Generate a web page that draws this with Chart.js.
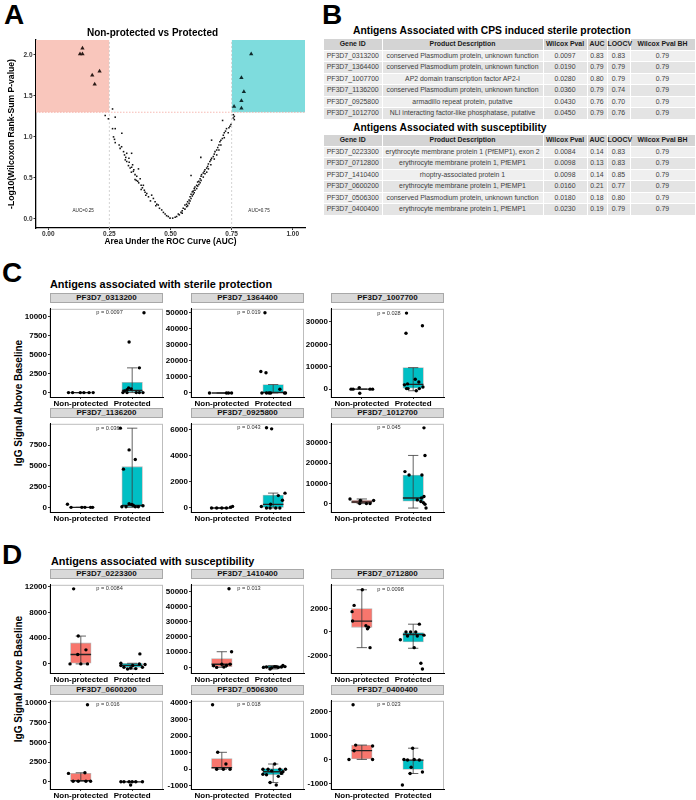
<!DOCTYPE html>
<html>
<head>
<meta charset="utf-8">
<script src="https://cdn.jsdelivr.net/npm/chart.js@4.4.1/dist/chart.umd.min.js"></script>
<style>
body { margin:0; background:#fff; font-family:"Liberation Sans", Arial, sans-serif; }
#page { position:relative; width:696px; height:800px; overflow:hidden; background:#fff; }
.abs { position:absolute; }
.letter { position:absolute; font-size:28px; line-height:28px; font-weight:bold; color:#000; }
.ptitle { position:absolute; font-weight:bold; color:#000; white-space:nowrap; line-height:12px; }
.strip { position:absolute; height:10px; box-sizing:border-box; background:#d9d9d9; border:1px solid #a8a8a8;
         font-size:8px; line-height:8px; font-weight:bold; color:#111; text-align:center; }
.ylab { position:absolute; width:200px; height:12px; line-height:12px; text-align:center; font-size:10px;
        font-weight:bold; color:#000; transform:rotate(-90deg); white-space:nowrap; }
table.tb { position:absolute; left:324px; width:371px; border-collapse:collapse; table-layout:fixed; font-size:6.9px; }
table.tb tr { height:11.5px; }
table.tb tr.hd { height:11px; }
table.tb th { background:#d4d4d4; color:#1a1a1a; font-weight:bold; line-height:8px; padding:0;
              border:0; border-right:1px solid #fff; border-bottom:1px solid #fff; }
table.tb td { color:#404040; line-height:8px; padding:0; text-align:center; white-space:nowrap;
              border:0; border-right:1px solid #fff; border-bottom:1px solid #fff; }
table.tb tr:nth-child(even) td { background:#efefef; }
table.tb tr:nth-child(odd) td { background:#e4e4e4; }
</style>
</head>
<body>
<div id="page">
  <div class="letter" style="left:4px;top:1px;">A</div>
  <div class="letter" style="left:322px;top:1px;">B</div>
  <div class="letter" style="left:2px;top:259px;">C</div>
  <div class="letter" style="left:2px;top:541px;">D</div>
  <canvas id="volcano" class="abs" width="312" height="222" style="left:0px;top:26px;"></canvas>
  <div class="ptitle" style="left:353px;top:25px;font-size:10.3px;">Antigens Associated with CPS induced sterile protection</div>
  <div class="ptitle" style="left:353px;top:122px;font-size:10.3px;">Antigens Associated with susceptibility</div>
  <div class="ptitle" style="left:50px;top:278px;font-size:10.9px;">Antigens associated with sterile protection</div>
  <div class="ptitle" style="left:51px;top:555px;font-size:10.9px;">Antigens associated with susceptibility</div>
  <div class="ylab" style="left:-81px;top:397px;">IgG Signal Above Baseline</div>
  <div class="ylab" style="left:-81px;top:673px;">IgG Signal Above Baseline</div>
</div>

<script>
// ---------------- data: panel A (volcano of AUC vs -log10 p) ----------------
const aucTicks = [0, 0.25, 0.5, 0.75, 1];
const logpTicks = [0, 0.5, 1, 1.5, 2];
const protAuc  = [0.83, 0.79, 0.80, 0.79, 0.76, 0.79];
const protLogP = [2.01, 1.72, 1.55, 1.44, 1.37, 1.35];
const suscAuc  = [0.14, 0.13, 0.14, 0.21, 0.18, 0.19];
const suscLogP = [2.08, 2.01, 2.01, 1.80, 1.75, 1.64];
// every other antigen, [AUC, -log10 p]
const otherPts = [
  [0.233,1.26],[0.246,1.22],[0.263,1.34],[0.274,1.24],[0.263,1.10],[0.274,1.10],[0.267,1.00],[0.271,0.97],
  [0.274,0.93],[0.301,1.045],[0.294,0.86],[0.29,0.90],[0.30,0.88],[0.308,0.82],[0.321,0.80],[0.312,0.78],
  [0.317,0.75],[0.341,0.80],[0.33,0.74],[0.315,0.72],[0.321,0.70],[0.331,0.69],[0.345,0.66],[0.328,0.65],
  [0.335,0.62],[0.341,0.63],[0.369,0.61],[0.35,0.60],[0.348,0.58],[0.34,0.57],[0.355,0.54],[0.362,0.52],
  [0.376,0.49],[0.355,0.48],[0.36,0.47],[0.366,0.46],[0.37,0.44],[0.380,0.41],[0.389,0.41],[0.385,0.38],
  [0.38,0.36],[0.393,0.35],[0.396,0.325],[0.403,0.31],[0.399,0.29],[0.423,0.29],[0.41,0.27],[0.430,0.25],
  [0.418,0.22],[0.437,0.21],[0.444,0.18],[0.450,0.17],[0.44,0.16],[0.455,0.13],[0.464,0.11],[0.471,0.08],
  [0.478,0.06],[0.484,0.04],[0.491,0.03],[0.498,0.01],[0.509,0.01],[0.519,0.02],
  [0.525,0.03],[0.532,0.06],[0.536,0.05],[0.543,0.08],[0.548,0.10],[0.548,0.07],[0.552,0.13],[0.559,0.17],
  [0.559,0.12],[0.566,0.18],[0.566,0.15],[0.570,0.21],[0.570,0.16],[0.576,0.23],[0.576,0.19],[0.580,0.27],
  [0.580,0.22],[0.584,0.30],[0.584,0.25],[0.584,0.53],[0.589,0.33],[0.589,0.28],[0.593,0.34],[0.593,0.30],
  [0.597,0.37],[0.597,0.32],[0.600,0.39],[0.600,0.35],[0.607,0.41],[0.607,0.37],[0.611,0.45],[0.611,0.40],
  [0.616,0.46],[0.616,0.42],[0.621,0.49],[0.621,0.44],[0.625,0.52],[0.625,0.47],[0.624,0.75],[0.627,0.54],
  [0.634,0.56],[0.634,0.51],[0.638,0.58],[0.641,0.60],[0.641,0.55],[0.648,0.62],[0.648,0.57],[0.652,0.64],
  [0.655,0.67],[0.655,0.61],[0.661,0.70],[0.665,0.72],[0.665,0.66],[0.668,0.74],[0.668,0.96],[0.675,0.76],
  [0.679,0.79],[0.679,0.73],[0.682,0.82],[0.689,0.84],[0.689,0.78],[0.693,0.87],[0.698,0.90],[0.698,0.84],
  [0.702,0.94],[0.706,0.96],[0.706,0.90],[0.712,0.98],[0.713,1.20],[0.716,1.02],[0.720,1.05],[0.720,0.99],
  [0.725,1.07],[0.729,1.10],[0.736,1.05],[0.739,1.11],[0.743,1.13],[0.747,1.15],[0.757,1.23],[0.757,1.27],
  [0.761,1.25],[0.761,1.21]
];
const aucCut = [0.25, 0.75];
const pCut = 1.3;

// ---------------- data: panel B tables ----------------
const tableHead = ["Gene ID", "Product Description", "Wilcox Pval", "AUC", "LOOCV", "Wilcox Pval BH"];
const colWidths = [58, 161, 44, 20, 23, 65];
const protGene = ["PF3D7_0313200","PF3D7_1364400","PF3D7_1007700","PF3D7_1136200","PF3D7_0925800","PF3D7_1012700"];
const protDesc = ["conserved Plasmodium protein, unknown function","conserved Plasmodium protein, unknown function",
  "AP2 domain transcription factor AP2-I","conserved Plasmodium protein, unknown function",
  "armadillo repeat protein, putative","NLI interacting factor-like phosphatase, putative"];
const protPval = ["0.0097","0.0190","0.0280","0.0360","0.0430","0.0450"];
const protAucT = ["0.83","0.79","0.80","0.79","0.76","0.79"];
const protLoocv = ["0.83","0.79","0.79","0.74","0.70","0.76"];
const protBH = ["0.79","0.79","0.79","0.79","0.79","0.79"];
const suscGene = ["PF3D7_0223300","PF3D7_0712800","PF3D7_1410400","PF3D7_0600200","PF3D7_0506300","PF3D7_0400400"];
const suscDesc = ["erythrocyte membrane protein 1 (PfEMP1), exon 2","erythrocyte membrane protein 1, PfEMP1",
  "rhoptry-associated protein 1","erythrocyte membrane protein 1, PfEMP1",
  "conserved Plasmodium protein, unknown function","erythrocyte membrane protein 1, PfEMP1"];
const suscPval = ["0.0084","0.0098","0.0098","0.0160","0.0180","0.0230"];
const suscAucT = ["0.14","0.13","0.14","0.21","0.18","0.19"];
const suscLoocv = ["0.83","0.83","0.85","0.77","0.80","0.79"];
const suscBH = ["0.79","0.79","0.79","0.79","0.79","0.79"];

// ---------------- data: panels C and D (box plots) ----------------
const groupLabels = ["Non-protected", "Protected"];
const facetGenes = ["PF3D7_0313200","PF3D7_1364400","PF3D7_1007700","PF3D7_1136200","PF3D7_0925800","PF3D7_1012700",
                    "PF3D7_0223300","PF3D7_1410400","PF3D7_0712800","PF3D7_0600200","PF3D7_0506300","PF3D7_0400400"];
const facetP = ["p = 0.0097","p = 0.019","p = 0.028","p = 0.036","p = 0.043","p = 0.045",
                "p = 0.0084","p = 0.013","p = 0.0098","p = 0.016","p = 0.018","p = 0.023"];
const facetRange = [[-578,10984],[-2500,52500],[-3500,35870],[-560,10090],[-307,6447],[-4150,39500],
                    [-1414,12290],[-3700,54320],[-3496,4024],[-913,10270],[-1190,4128],[-1236,2452]];
const facetTicks = [[0,2500,5000,7500,10000],[0,10000,20000,30000,40000,50000],[0,10000,20000,30000],
                    [0,2500,5000,7500],[0,2000,4000,6000],[0,10000,20000,30000],
                    [0,4000,8000,12000],[0,10000,20000,30000,40000,50000],[-2000,0,2000],
                    [0,2500,5000,7500,10000],[-1000,0,1000,2000,3000,4000],[-1000,0,1000,2000]];
// [q1, median, q3, lower whisker, upper whisker]
const boxNonProt = [[0,0,0,0,0],[0,0,0,0,0],[0,0,0,0,0],[0,0,0,0,0],[0,0,0,0,0],[200,800,1700,0,2300],
                    [97,1457,3255,0,4324],[412,2058,5762,0,10290],[400,933,2000,-1333,3600],
                    [79,150,1067,79,1146],[0,100,651,0,1023],[0,366,601,0,601]];
const boxProt = [[0,290,1353,0,3240],[0,300,5254,0,5254],[400,2100,9600,-710,9600],[0,250,4912,0,9562],
                 [0,280,990,0,1140],[1230,2768,14150,-2200,23840],
                 [-534,-243,97,-790,97],[-412,200,1235,-1060,1235],[-853,-213,0,-1387,667],
                 [0,0,0,0,0],[-335,-149,37,-800,316],[-418,-26,0,-588,470]];
// jittered points: [offset from group centre, value]
const ptsNonProt = [
  [[-0.24,0],[-0.16,0],[-0.01,0],[0.06,0],[0.16,0],[0.24,0]],
  [[-0.24,0],[0.09,0],[0.13,0],[0.19,0]],
  [[-0.21,0],[-0.17,0],[-0.05,700],[-0.04,-1800],[0.16,0],[0.21,0]],
  [[-0.26,375],[-0.19,0],[0.02,0],[0.08,0],[0.19,0],[0.23,0]],
  [[-0.2,0],[-0.1,0],[0,0],[0.09,0],[0.17,70],[0.21,120]],
  [[-0.23,2307],[-0.03,1538],[-0.04,0],[0.09,0],[0.16,0],[0.23,1538]],
  [[-0.14,11660],[-0.05,4324],[-0.06,1457],[0.1,2186],[-0.21,0],[0,0],[0.13,0]],
  [[0.14,51680],[0.19,10290],[-0.16,1029],[0.04,206],[0,2058],[0.09,1235],[0.16,2058],[-0.1,0]],
  [[0.01,3600],[-0.15,2267],[-0.19,1733],[-0.18,933],[0.08,533],[0.11,267],[0.16,-1333],[0.13,400]],
  [[0.13,9762],[-0.24,1067],[0.08,1146],[-0.15,79],[-0.05,79],[0.1,79],[0.19,79]],
  [[-0.18,3886],[-0.08,1023],[0.08,316],[-0.1,0],[0.03,0],[0.16,0]],
  [[-0.17,2284],[-0.12,600],[-0.15,366],[0.21,565],[-0.25,0],[0.21,0]]
];
const ptsProt = [
  [[0.23,10458],[-0.06,6640],[0.14,3240],[-0.02,490],[-0.07,615],[-0.10,370],[-0.15,205],[-0.18,0],[-0.1,0],[0.08,0],[0.14,0],[0.21,0]],
  [[-0.16,50000],[-0.24,13430],[-0.14,12650],[0.13,2335],[-0.22,0],[-0.13,0],[-0.08,0],[-0.05,0],[0.22,0],[0.24,0]],
  [[-0.13,33940],[-0.14,24970],[0.18,28320],[0.04,4440],[0.11,3180],[-0.11,2350],[-0.17,1930],[0.19,960],[-0.13,250],[-0.10,250],[0.12,250],[0.06,-710]],
  [[-0.23,9562],[-0.06,6937],[0.06,5775],[-0.17,4612],[-0.06,450],[-0.01,337],[0.02,260],[-0.20,75],[-0.12,75],[0.06,75],[0.12,75],[0.21,190]],
  [[-0.13,6140],[-0.03,6060],[-0.05,284],[0.1,948],[0.23,1138],[0.18,592],[0.05,0],[0.13,0],[-0.13,0],[-0.06,0],[-0.23,118]],
  [[0.21,37500],[0.23,23840],[-0.16,15840],[-0.08,14150],[0.17,14150],[0.21,3537],[0.08,1846],[0.15,1077],[0.16,2768],[0.23,-308],[0.2,461],[0.25,-2200]],
  [[0.15,1555],[-0.22,97],[-0.16,-534],[-0.03,-631],[0.07,-728],[-0.09,-790],[0.2,-534],[0.14,0],[0.01,-243],[-0.22,-243],[0.25,-100]],
  [[-0.06,-1060],[0.19,1235],[0.03,400],[0.1,0],[-0.19,0],[-0.13,200],[0.16,200],[0.23,500],[-0.03,-300],[0.06,300]],
  [[0.12,667],[-0.14,0],[-0.05,0],[0.05,0],[-0.25,-667],[-0.11,-347],[0.08,-347],[0.21,-267],[0.02,-1333],[0.15,-2667],[0.18,-3154]],
  [[-0.22,0],[-0.16,0],[-0.06,0],[0,0],[0.07,0],[0.2,0],[-0.03,-404]],
  [[0.03,316],[-0.2,0],[-0.1,0],[0.13,0],[0.24,0],[-0.13,-335],[-0.2,-300],[0.16,-250],[0.1,-428],[-0.06,-800],[0.06,-949],[-0.03,-100],[0.19,-150]],
  [[-0.01,470],[-0.18,0],[-0.11,-26],[0.02,0],[0.12,-26],[-0.04,-327],[-0.06,-588],[0.18,-523],[-0.21,-1069]]
];

// ---------------- layout / style ----------------
const FONT = '"Liberation Sans", Arial, sans-serif';
const SALMON = "#F8766D", CYAN = "#00BFC4";
const colX = [50, 191, 331];
const stripTop = [293, 408, 569, 685];
const PLOT_W = 113, PLOT_H = 94, STRIP_H = 10, YAX_W = 34, XAX_H = 14;
const BOX_HALF = 0.2, CAP_HALF = 0.1;

Chart.defaults.font.family = FONT;
const page = document.getElementById("page");

// ---------------- panel B ----------------
function buildTable(top, cols)
{
    const t = document.createElement("table");
    t.className = "tb";
    t.style.top = top + "px";
    let html = "<colgroup>" + colWidths.map(w => '<col style="width:' + w + 'px">').join("") + "</colgroup>";
    html += '<tr class="hd">' + tableHead.map(h => "<th>" + h + "</th>").join("") + "</tr>";
    for (let r = 0; r < cols[0].length; r++)
        html += "<tr>" + cols.map(c => "<td>" + c[r] + "</td>").join("") + "</tr>";
    t.innerHTML = html;
    page.appendChild(t);
}
buildTable(39, [protGene, protDesc, protPval, protAucT, protLoocv, protBH]);
buildTable(135, [suscGene, suscDesc, suscPval, suscAucT, suscLoocv, suscBH]);

// ---------------- panel A ----------------
const xMinA = -0.05, xMaxA = 1.05, yMinA = -0.11, yMaxA = 2.18;

const aucNotes = {
    id: "aucNotes",
    afterDatasetsDraw(chart)
    {
        const {ctx, scales: {x, y}} = chart;
        ctx.save();
        ctx.font = "4.6px " + FONT;
        ctx.fillStyle = "#222";
        ctx.textAlign = "center";
        ctx.textBaseline = "middle";
        ctx.fillText("AUC=0.25", x.getPixelForValue(0.143), y.getPixelForValue(0.1));
        ctx.fillText("AUC=0.75", x.getPixelForValue(0.862), y.getPixelForValue(0.1));
        ctx.restore();
    }
};

new Chart(document.getElementById("volcano"), {
    type: "scatter",
    data: {
        datasets: [
            { type:"line", data:[{x:xMinA, y:yMaxA}, {x:aucCut[0], y:yMaxA}], fill:{value:pCut},
              backgroundColor:"#F9C6BC", borderWidth:0, pointRadius:0, order:10 },
            { type:"line", data:[{x:aucCut[1], y:yMaxA}, {x:xMaxA, y:yMaxA}], fill:{value:pCut},
              backgroundColor:"#7EDCDD", borderWidth:0, pointRadius:0, order:10 },
            { type:"line", data:[{x:aucCut[0], y:yMinA}, {x:aucCut[0], y:yMaxA}, {x:aucCut[0], y:null},
                                 {x:aucCut[1], y:yMinA}, {x:aucCut[1], y:yMaxA}],
              borderColor:"#c8c8c8", borderWidth:0.8, borderDash:[2,2], pointRadius:0, order:5 },
            { type:"line", data:[{x:xMinA, y:pCut}, {x:xMaxA, y:pCut}],
              borderColor:"#F4A7A0", borderWidth:0.8, borderDash:[1.5,1.5], pointRadius:0, order:5 },
            { data: otherPts.map(p => ({x:p[0], y:p[1]})), pointStyle:"rect", pointRadius:1.1,
              backgroundColor:"#111", borderWidth:0, order:1 },
            { data: suscAuc.map((a, k) => ({x:a, y:suscLogP[k]})), pointStyle:"triangle", pointRadius:2.5,
              backgroundColor:"#2a1a16", borderWidth:0, order:0 },
            { data: protAuc.map((a, k) => ({x:a, y:protLogP[k]})), pointStyle:"triangle", pointRadius:2.5,
              backgroundColor:"#0f2a2b", borderWidth:0, order:0 }
        ]
    },
    options: {
        responsive:false, animation:false, events:[],
        layout: { autoPadding:false, padding:{left:0, right:7, top:0, bottom:0} },
        plugins: {
            legend:{display:false}, tooltip:{enabled:false},
            title: { display:true, text:"Non-protected vs Protected", color:"#000",
                     font:{size:10, weight:"bold"}, padding:{top:1, bottom:1} }
        },
        scales: {
            x: { type:"linear", min:xMinA, max:xMaxA,
                 afterBuildTicks: ax => { ax.ticks = aucTicks.map(v => ({value:v})); },
                 afterFit: ax => { ax.height = 20; },
                 ticks: { callback: v => v.toFixed(2), font:{size:6.5, weight:"bold"}, color:"#333", padding:0, maxRotation:0 },
                 grid: { drawOnChartArea:false, tickLength:2, color:"#333" },
                 border: { color:"#000", width:1.3 },
                 title: { display:true, text:"Area Under the ROC Curve (AUC)", color:"#000",
                          font:{size:8.3, weight:"bold"}, padding:{top:0, bottom:1.5} } },
            y: { type:"linear", min:yMinA, max:yMaxA,
                 afterBuildTicks: ax => { ax.ticks = logpTicks.map(v => ({value:v})); },
                 afterFit: ax => { ax.width = 36; },
                 ticks: { callback: v => v.toFixed(1), font:{size:6.5, weight:"bold"}, color:"#333", padding:1 },
                 grid: { drawOnChartArea:false, tickLength:2.5, color:"#333" },
                 border: { color:"#000", width:1.3 },
                 title: { display:true, text:"-Log10(Wilcoxon Rank-Sum P-value)", color:"#000",
                          font:{size:8.6, weight:"bold"}, padding:{top:6.5, bottom:0} } }
        }
    },
    plugins: [aucNotes]
});

// ---------------- panels C and D ----------------
const panelFrame = {
    id: "panelFrame",
    beforeDraw(chart)
    {
        const a = chart.chartArea, ctx = chart.ctx;
        ctx.save();
        ctx.strokeStyle = "#bdbdbd";
        ctx.lineWidth = 1;
        ctx.strokeRect(a.left, a.top + 0.5, a.right - a.left - 0.5, a.bottom - a.top);
        ctx.restore();
    }
};

function makeFacet(cv, i)
{
    const boxes = [boxNonProt[i], boxProt[i]];
    const pts = [ptsNonProt[i], ptsProt[i]];
    const whisk = [], med = [], dots = [];

    boxes.forEach((b, g) =>
    {
        const cx = g + 1;
        whisk.push({x:cx, y:b[3]}, {x:cx, y:b[4]}, {x:cx, y:null},
                   {x:cx - CAP_HALF, y:b[4]}, {x:cx + CAP_HALF, y:b[4]}, {x:cx, y:null},
                   {x:cx - CAP_HALF, y:b[3]}, {x:cx + CAP_HALF, y:b[3]}, {x:cx, y:null});
        med.push({x:cx - BOX_HALF, y:b[1]}, {x:cx + BOX_HALF, y:b[1]}, {x:cx, y:null});
        pts[g].forEach(p => dots.push({x:cx + p[0], y:p[1]}));
    });

    const topVal = Math.max(...dots.map(d => d.y));

    const pLabel = {
        id: "pLabel",
        afterDatasetsDraw(chart)
        {
            const {ctx, scales: {x, y}} = chart;
            ctx.save();
            ctx.font = "5.6px " + FONT;
            ctx.fillStyle = "#333";
            ctx.textAlign = "left";
            ctx.textBaseline = "middle";
            ctx.fillText(facetP[i], x.getPixelForValue(1.3), y.getPixelForValue(topVal));
            ctx.restore();
        }
    };

    new Chart(cv, {
        type: "bar",
        data: {
            datasets: [
                { type:"scatter", data:dots, pointRadius:1.7, backgroundColor:"#000", borderWidth:0, order:0 },
                { type:"line", data:med, borderColor:"#222", borderWidth:1.3, pointRadius:0, order:1 },
                { type:"line", data:whisk, borderColor:"#3a3a3a", borderWidth:0.8, pointRadius:0, order:2 },
                { data: boxes.map((b, g) => ({x:g + 1, y:[b[0], b[2]]})),
                  backgroundColor:[SALMON, CYAN], borderColor:"rgba(110,110,110,0.5)", borderWidth:0.8,
                  borderSkipped:false, barThickness: BOX_HALF * 2 * PLOT_W / 2.2, order:3 }
            ]
        },
        options: {
            responsive:false, animation:false, events:[],
            layout: { autoPadding:false, padding:{left:0, right:1, top:0, bottom:0} },
            plugins: { legend:{display:false}, tooltip:{enabled:false} },
            scales: {
                x: { type:"linear", min:0.4, max:2.6, offset:false,
                     afterBuildTicks: ax => { ax.ticks = [{value:1}, {value:2}]; },
                     afterFit: ax => { ax.height = XAX_H; },
                     ticks: { callback: v => groupLabels[v - 1], font:{size:8, weight:"bold"}, color:"#000",
                              padding:0, maxRotation:0, autoSkip:false },
                     grid: { drawOnChartArea:false, tickLength:2, color:"#333", offset:false },
                     border: { color:"#000", width:1 } },
                y: { type:"linear", min:facetRange[i][0], max:facetRange[i][1],
                     afterBuildTicks: ax => { ax.ticks = facetTicks[i].map(v => ({value:v})); },
                     afterFit: ax => { ax.width = YAX_W; },
                     ticks: { callback: v => String(v), font:{size:8, weight:"bold"}, color:"#000", padding:1 },
                     grid: { drawOnChartArea:false, tickLength:2, color:"#333" },
                     border: { color:"#000", width:1 } }
            }
        },
        plugins: [panelFrame, pLabel]
    });
}

facetGenes.forEach((gene, i) =>
{
    const r = Math.floor(i / 3), c = i % 3;

    const strip = document.createElement("div");
    strip.className = "strip";
    strip.style.left = colX[c] + "px";
    strip.style.top = stripTop[r] + "px";
    strip.style.width = PLOT_W + "px";
    strip.textContent = gene;
    page.appendChild(strip);

    const cv = document.createElement("canvas");
    cv.className = "abs";
    cv.width = YAX_W + PLOT_W + 1;
    cv.height = PLOT_H + XAX_H;
    cv.style.left = (colX[c] - YAX_W) + "px";
    cv.style.top = (stripTop[r] + STRIP_H) + "px";
    page.appendChild(cv);

    makeFacet(cv, i);
});
</script>
</body>
</html>
